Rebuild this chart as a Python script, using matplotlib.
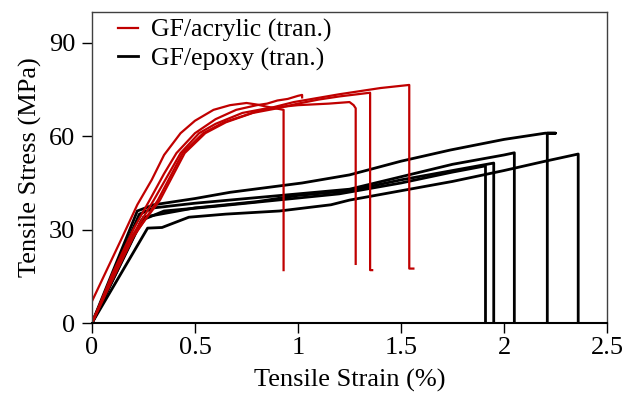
import matplotlib
matplotlib.use("Agg")
import matplotlib.pyplot as plt

plt.rcParams['font.family'] = ['Liberation Serif', 'DejaVu Serif']

# GF/acrylic (tran.) specimens: strain (%), stress (MPa)
acr1_x = [0, 0.05, 0.1, 0.15, 0.22, 0.29, 0.35, 0.43, 0.5, 0.59, 0.67, 0.75, 0.8, 0.85, 0.93, 0.93]
acr1_y = [7, 14, 21, 28, 38, 46, 54, 61, 65, 68.5, 70, 70.7, 70.2, 69.5, 68.5, 17]
acr2_x = [0, 0.1, 0.2, 0.28, 0.35, 0.41, 0.5, 0.6, 0.7, 0.8, 0.85, 0.9, 0.95, 1.0, 1.02, 1.02]
acr2_y = [0, 16, 30, 39.5, 48, 54.6, 61, 65.5, 68.5, 70, 70.5, 71.5, 72, 73, 73.3, 72.5]
acr3_x = [0, 0.1, 0.2, 0.3, 0.43, 0.52, 0.6, 0.73, 0.85, 1.0, 1.15, 1.25, 1.27, 1.28, 1.28]
acr3_y = [0, 15, 28.5, 39.5, 54.6, 61, 64, 67.5, 69, 70, 70.5, 71, 70, 69, 19]
acr4_x = [0, 0.1, 0.2, 0.33, 0.45, 0.55, 0.65, 0.78, 0.9, 1.0, 1.1, 1.2, 1.35, 1.35, 1.36]
acr4_y = [0, 14.5, 28, 39.5, 54.6, 61, 64.5, 67.5, 69, 70.5, 71.8, 72.8, 74, 17, 17]
acr5_x = [0, 0.1, 0.2, 0.32, 0.44, 0.54, 0.64, 0.8, 0.98, 1.2, 1.4, 1.54, 1.54, 1.56]
acr5_y = [0, 14, 27.5, 39.5, 54.6, 61, 64.5, 68, 71, 73.5, 75.5, 76.5, 17.5, 17.5]

# GF/epoxy (tran.) specimens
epo1_x = [0, 0.22, 0.3, 0.5, 0.67, 1.02, 1.25, 1.5, 1.74, 2.0, 2.2, 2.25, 2.21, 2.21]
epo1_y = [0, 36, 38, 40, 42, 45, 47.6, 52, 55.6, 59, 61, 61, 61, 0]
epo2_x = [0, 0.23, 0.3, 0.5, 0.75, 1.0, 1.25, 1.5, 1.75, 2.0, 2.05, 2.05]
epo2_y = [0, 35, 37, 38.5, 40, 41.5, 43, 47, 51, 54, 54.7, 0]
epo3_x = [0, 0.24, 0.35, 0.6, 0.9, 1.2, 1.5, 1.75, 1.91, 1.91]
epo3_y = [0, 33, 36, 37.5, 39.5, 41.5, 45, 48.5, 50.5, 0]
epo4_x = [0, 0.25, 0.5, 0.8, 1.0, 1.25, 1.5, 1.75, 1.95, 1.95]
epo4_y = [0, 34, 37, 39, 41, 42.5, 46, 49, 51.4, 0]
epo5_x = [0, 0.27, 0.34, 0.47, 0.65, 0.91, 1.16, 1.25, 1.5, 1.75, 2.0, 2.2, 2.36, 2.36]
epo5_y = [0, 30.5, 30.7, 34, 35, 36, 38, 39.5, 42.5, 45.5, 49, 52, 54.3, 0]

acrylic = [(acr1_x, acr1_y), (acr2_x, acr2_y), (acr3_x, acr3_y), (acr4_x, acr4_y), (acr5_x, acr5_y)]
epoxy = [(epo1_x, epo1_y), (epo2_x, epo2_y), (epo3_x, epo3_y), (epo4_x, epo4_y), (epo5_x, epo5_y)]

fig = plt.figure(figsize=(6.33, 3.93), dpi=100)
ax = fig.add_axes([0.1453, 0.178, 0.8137, 0.792])

for i, (x, y) in enumerate(epoxy):
    ax.plot(x, y, color='black', lw=2, label='GF/epoxy (tran.)' if i == 0 else None)
for i, (x, y) in enumerate(acrylic):
    ax.plot(x, y, color='#c00000', lw=1.6, label='GF/acrylic (tran.)' if i == 0 else None)

ax.set_xlim(0, 2.5)
ax.set_ylim(0, 100)
ax.set_xticks([0, 0.5, 1, 1.5, 2, 2.5])
ax.set_xticklabels(['0', '0.5', '1', '1.5', '2', '2.5'])
ax.set_yticks([0, 30, 60, 90])
ax.tick_params(direction='out', length=7, width=1, labelsize=19, colors='black')
ax.tick_params(axis='y', pad=5)
ax.tick_params(axis='x', pad=3)
ax.set_xlabel('Tensile Strain (%)', fontsize=19, labelpad=7)
ax.set_ylabel('Tensile Stress (MPa)', fontsize=19, labelpad=5)

for s in ['top', 'right', 'left']:
    ax.spines[s].set_color('#404040')
    ax.spines[s].set_linewidth(1)
ax.spines['bottom'].set_linewidth(1.5)

handles, labels = ax.get_legend_handles_labels()
ax.legend(handles[::-1], labels[::-1], loc='upper left', frameon=False, fontsize=18.5,
          handlelength=0.8, handletextpad=0.5, labelspacing=0.2,
          bbox_to_anchor=(0.03, 1.01), borderaxespad=0)

fig.savefig('out.png', dpi=100)
